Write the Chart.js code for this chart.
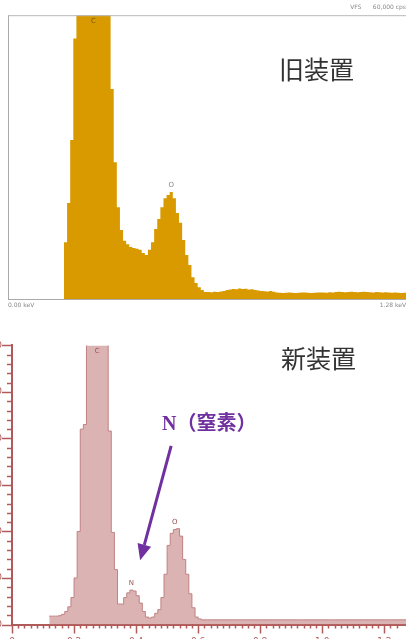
<!DOCTYPE html>
<html>
<head>
<meta charset="utf-8">
<script src="https://cdn.jsdelivr.net/npm/chart.js@4.4.0/dist/chart.umd.min.js"></script>
<style>
  html, body { margin: 0; padding: 0; width: 406px; height: 639px; overflow: hidden; background: #fff; }
  .box { position: absolute; }
  #oldBox { left: 0; top: 0; width: 406px; height: 320px; }
  #newBox { left: -40px; top: 330px; width: 446px; height: 340px; }
  .jp { position: absolute; font-family: "Noto Sans CJK JP", sans-serif; font-size: 25px; color: #333; line-height: 1; white-space: nowrap; }
  #nLabel { position: absolute; left: 162px; top: 413px; font-family: "Liberation Serif", "Noto Sans CJK JP", serif; font-size: 20px; font-weight: bold; color: #7030a0; line-height: 1; white-space: nowrap; }
</style>
</head>
<body>
<div class="box" id="oldBox"><canvas id="oldChart" width="406" height="320"></canvas></div>
<div class="box" id="newBox"><canvas id="newChart" width="446" height="340"></canvas></div>
<div class="jp" style="left:279px; top:56px;">旧装置</div>
<div class="jp" style="left:281px; top:345px;">新装置</div>
<div id="nLabel">N（窒素）</div>
<script>
// spectra in 0.01 keV bins
var binWidth = 0.01;

// old device (cps), first bin starts at 0.18 keV
var oldStart = 0.18;
var oldCounts = [
  12000, 20300, 33600, 55100, 78000, 98000, 112000, 121000, 125000, 126000,
  121000, 108000, 92000, 76000, 62000, 44400, 28900, 19400, 14600, 12300,
  11600, 11000, 10800, 10600, 10400, 9700, 9300, 10400, 12000, 14800,
  16900, 19400, 21300, 22000, 22600, 21300, 18200, 16100, 12500, 9300,
  7200, 4600, 3400, 2500, 1900, 1500,
  1500, 1450, 1550, 1500, 1600, 1700,
  1900, 2000, 2100, 2050, 2200, 2100, 2150, 2000, 2050, 1900,
  1800, 1700, 1650, 1600, 1700, 1550, 1400,
  1300, 1250, 1300, 1350, 1300, 1250, 1300, 1400, 1350, 1300, 1250, 1300, 1350,
  1400, 1350, 1300, 1450, 1400, 1500, 1550, 1500, 1450, 1500,
  1550, 1500, 1450, 1500, 1550, 1500, 1450, 1400, 1500, 1450,
  1400, 1450, 1350, 1300, 1350, 1300, 1250, 1300
];
var oldXTicks = [0, 1.28];
var oldPeaks = ['C', 'O'];
var oldPeakKeV = [0.27, 0.52];

// new device, first bin starts at 0.12 keV
var newStart = 0.12;
var newCounts = [
  9, 9, 9, 9.5, 11, 14, 19, 29, 50, 100,
  210, 215, 560, 650, 690, 680, 610, 480, 330, 208,
  99, 59, 22, 22, 29, 34, 37, 36, 31, 23,
  14, 8, 7, 8, 12, 16, 29, 54, 85, 98,
  102, 103, 95, 70, 54, 33, 18, 8,
  6, 5, 5, 5, 5, 5, 5, 5, 5, 5,
  5, 5, 5, 5, 5, 5, 5, 5, 5, 5,
  5, 5, 5, 5, 5, 5, 5, 5, 5, 5,
  5, 5, 5, 5, 5, 5, 5, 5, 5, 5,
  5, 5, 5, 5, 5, 5, 5, 5, 5, 5,
  5, 5, 5, 5, 5, 5, 5, 5, 5, 5,
  5, 5, 5, 5, 5, 5, 5
];
var newXMajor = 0.2, newXMinor = 0.02;
var newYMajor = 50, newYMinor = 10;
var newPeaks = ['C', 'N', 'O'];
var newPeakKeV = [0.27, 0.38, 0.52];

// arrow from the label down to the N peak (keV, counts)
var arrowFrom = [0.513, 192];
var arrowTo = [0.413, 69];

function toSteps(start, counts) {
  var pts = counts.map(function (c, i) {
    return { x: +(start + i * binWidth).toFixed(2), y: c };
  });
  pts.push({ x: +(start + counts.length * binWidth).toFixed(2), y: counts[counts.length - 1] });
  return pts;
}

function isMultiple(v, step) {
  var r = v / step;
  return Math.abs(r - Math.round(r)) < 1e-6;
}

function noSidePadding(s) {
  s.paddingLeft = 0;
  s.paddingRight = 0;
}

var peakLabels = {
  id: 'peakLabels',
  afterDatasetsDraw: function (chart, args, o) {
    if (!o.names) return;
    var ctx = chart.ctx, a = chart.chartArea;
    ctx.save();
    ctx.font = '7px "DejaVu Sans"';
    ctx.textAlign = 'center';
    ctx.textBaseline = 'middle';
    o.names.forEach(function (n, k) {
      var i = Math.round((o.kev[k] - o.start) / binWidth);
      var px = chart.scales.x.getPixelForValue(o.kev[k] + binWidth / 2);
      var py = chart.scales.y.getPixelForValue(o.counts[i]) - 7;
      if (py < a.top + 6) py = a.top + 6;
      ctx.fillStyle = o.colors[k];
      ctx.fillText(n, px, py);
    });
    ctx.restore();
  }
};

var topFrame = {
  id: 'topFrame',
  afterDraw: function (chart, args, o) {
    if (!o.color) return;
    var ctx = chart.ctx, a = chart.chartArea;
    ctx.save();
    ctx.strokeStyle = o.color;
    ctx.lineWidth = 1;
    ctx.beginPath();
    ctx.moveTo(a.left, a.top + 0.5);
    ctx.lineTo(a.right, a.top + 0.5);
    ctx.stroke();
    ctx.restore();
  }
};

var tickMarks = {
  id: 'tickMarks',
  afterDraw: function (chart, args, o) {
    if (!o.color) return;
    var ctx = chart.ctx, a = chart.chartArea, sx = chart.scales.x, sy = chart.scales.y;
    ctx.save();
    ctx.strokeStyle = o.color;
    ctx.lineWidth = 1.5;
    sx.ticks.forEach(function (t) {
      if (!isMultiple(t.value, newXMinor)) return;
      var px = Math.round(sx.getPixelForValue(t.value)) + 0.5;
      var len = isMultiple(t.value, newXMajor) ? 9 : 4;
      ctx.beginPath(); ctx.moveTo(px, a.bottom); ctx.lineTo(px, a.bottom + len); ctx.stroke();
    });
    sy.ticks.forEach(function (t) {
      var py = Math.round(sy.getPixelForValue(t.value)) + 0.5;
      var len = isMultiple(t.value, newYMajor) ? 10 : 5;
      ctx.beginPath(); ctx.moveTo(a.left - len, py); ctx.lineTo(a.left, py); ctx.stroke();
    });
    ctx.restore();
  }
};

var arrow = {
  id: 'arrow',
  afterDraw: function (chart, args, o) {
    if (!o.from) return;
    var ctx = chart.ctx, sx = chart.scales.x, sy = chart.scales.y;
    var x1 = sx.getPixelForValue(o.from[0]), y1 = sy.getPixelForValue(o.from[1]);
    var x2 = sx.getPixelForValue(o.to[0]), y2 = sy.getPixelForValue(o.to[1]);
    var ang = Math.atan2(y2 - y1, x2 - x1), head = 16, half = 7;
    var bx = x2 - head * Math.cos(ang), by = y2 - head * Math.sin(ang);
    ctx.save();
    ctx.strokeStyle = o.color;
    ctx.fillStyle = o.color;
    ctx.lineWidth = 3;
    ctx.beginPath(); ctx.moveTo(x1, y1); ctx.lineTo(bx, by); ctx.stroke();
    ctx.beginPath();
    ctx.moveTo(x2, y2);
    ctx.lineTo(bx + half * Math.sin(ang), by - half * Math.cos(ang));
    ctx.lineTo(bx - half * Math.sin(ang), by + half * Math.cos(ang));
    ctx.closePath();
    ctx.fill();
    ctx.restore();
  }
};

Chart.register(peakLabels, topFrame, tickMarks, arrow);

// old device
new Chart(document.getElementById('oldChart'), {
  type: 'line',
  data: {
    datasets: [{
      data: toSteps(oldStart, oldCounts),
      stepped: true,
      fill: 'origin',
      backgroundColor: '#d99a00',
      borderColor: '#d99a00',
      borderWidth: 0,
      pointRadius: 0
    }]
  },
  options: {
    responsive: false,
    animation: false,
    layout: { padding: { left: 8, right: 0, top: 0, bottom: 0 } },
    plugins: {
      legend: { display: false },
      tooltip: { enabled: false },
      title: {
        display: true,
        text: 'VFS      60,000 cps',
        align: 'end',
        color: '#888',
        font: { size: 6, family: 'DejaVu Sans', weight: 'normal' },
        padding: { top: 4, bottom: 4 }
      },
      peakLabels: { names: oldPeaks, kev: oldPeakKeV, start: oldStart, counts: oldCounts, colors: ['#7a5a10', '#888'] },
      topFrame: { color: '#b8b8b8' }
    },
    scales: {
      x: {
        type: 'linear',
        min: 0,
        max: 1.28,
        grid: { display: false, drawTicks: false },
        border: { color: '#aaa' },
        afterBuildTicks: function (s) { s.ticks = oldXTicks.map(function (v) { return { value: v }; }); },
        ticks: {
          callback: function (v) { return v.toFixed(2) + ' keV'; },
          font: { size: 6, family: 'DejaVu Sans' },
          color: '#888',
          align: 'inner',
          padding: 3,
          maxRotation: 0,
          autoSkip: false
        },
        afterFit: function (s) { noSidePadding(s); s.height = 21; }
      },
      y: {
        min: 0,
        max: 60000,
        grid: { display: false, drawTicks: false },
        ticks: { display: false },
        border: { color: '#aaa' },
        afterFit: function (s) { s.width = 0; }
      }
    }
  }
});

// new device
var axisRed = '#b05a5a';
new Chart(document.getElementById('newChart'), {
  type: 'line',
  data: {
    datasets: [{
      data: toSteps(newStart, newCounts),
      stepped: true,
      fill: 'origin',
      backgroundColor: 'rgba(214, 166, 166, 0.85)',
      borderColor: '#c08282',
      borderWidth: 1,
      pointRadius: 0
    }]
  },
  options: {
    responsive: false,
    animation: false,
    layout: { padding: { left: 0, right: 0, top: 8, bottom: 0 } },
    plugins: {
      legend: { display: false },
      tooltip: { enabled: false },
      peakLabels: { names: newPeaks, kev: newPeakKeV, start: newStart, counts: newCounts, colors: ['#9a5050', '#9a5050', '#9a5050'] },
      tickMarks: { color: axisRed },
      arrow: { from: arrowFrom, to: arrowTo, color: '#7030a0' }
    },
    scales: {
      x: {
        type: 'linear',
        min: 0,
        max: 1.27,
        grid: { display: false, drawTicks: false },
        border: { color: axisRed, width: 2 },
        ticks: {
          stepSize: newXMinor,
          autoSkip: false,
          maxRotation: 0,
          padding: 12,
          color: axisRed,
          font: { size: 9, family: 'DejaVu Sans' },
          callback: function (v) {
            if (!isMultiple(v, newXMajor)) return '';
            return v === 0 ? '0' : v.toFixed(1);
          }
        },
        afterFit: function (s) { noSidePadding(s); s.height = 45.5; }
      },
      y: {
        min: 0,
        max: 300,
        grid: { display: false, drawTicks: false },
        border: { color: axisRed, width: 2 },
        ticks: {
          stepSize: newYMinor,
          autoSkip: false,
          padding: 10,
          color: axisRed,
          font: { size: 9, family: 'DejaVu Sans' },
          callback: function (v) { return isMultiple(v, newYMajor) ? v : ''; }
        },
        afterFit: function (s) { s.width = 52; }
      }
    }
  }
});
</script>
</body>
</html>
